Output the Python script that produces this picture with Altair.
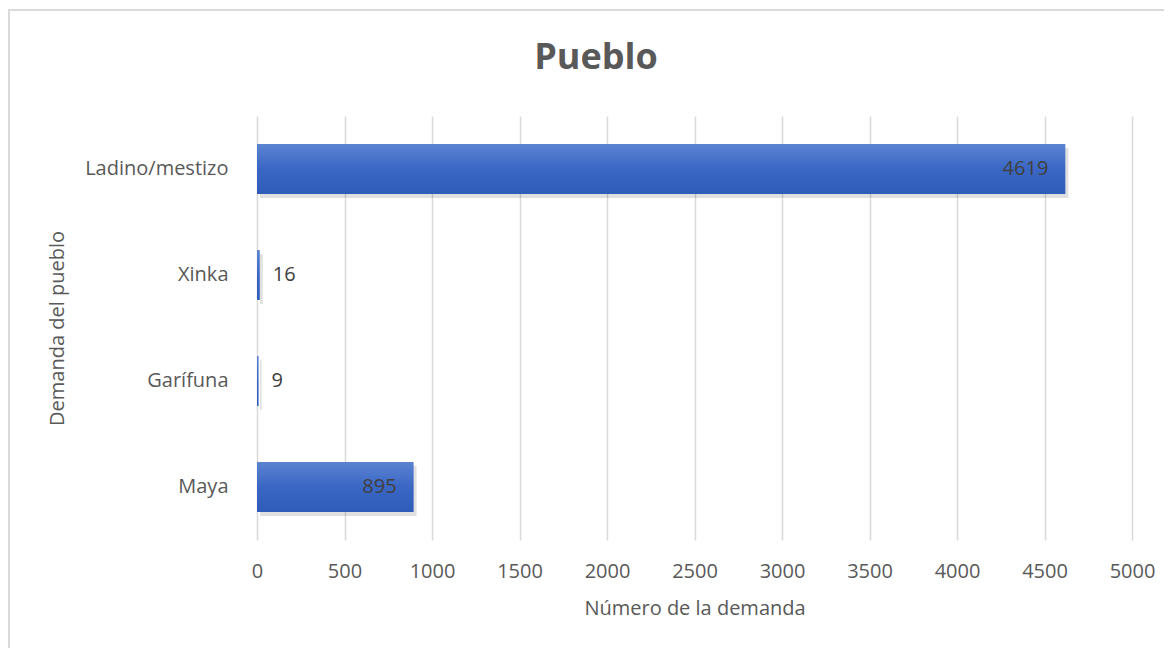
import altair as alt
import pandas as pd

pueblos = ["Ladino/mestizo", "Xinka", "Garífuna", "Maya"]
valores = [4619, 16, 9, 895]
x_ticks = [0, 500, 1000, 1500, 2000, 2500, 3000, 3500, 4000, 4500, 5000]

df = pd.DataFrame({"pueblo": pueblos, "valor": valores})

FONT = "Open Sans"
GRAY = "#595959"
FS = 20

y_enc = alt.Y(
    "pueblo:N",
    sort=pueblos,
    scale=alt.Scale(paddingInner=0.53, paddingOuter=0.265),
    axis=alt.Axis(
        title="Demanda del pueblo",
        labelFontSize=FS,
        labelColor=GRAY,
        labelFont=FONT,
        labelPadding=29,
        ticks=False,
        domain=False,
        titleFontSize=FS,
        titleFont=FONT,
        titleColor=GRAY,
        titleFontWeight="normal",
        titleBaseline="middle",
        titleX=-200,
        titleY=212,
    ),
)

x_enc = alt.X(
    "valor:Q",
    scale=alt.Scale(domain=[0, 5000], nice=False),
    axis=alt.Axis(
        values=x_ticks,
        format="d",
        labelFlush=False,
        title="Número de la demanda",
        labelFontSize=FS,
        labelColor=GRAY,
        labelFont=FONT,
        labelPadding=21,
        ticks=False,
        domain=False,
        grid=True,
        gridColor="#d9d9d9",
        gridWidth=1.5,
        titleFontSize=FS,
        titleFont=FONT,
        titleColor=GRAY,
        titleFontWeight="normal",
        titlePadding=17,
    ),
)

base = alt.Chart(df)

shadow = base.mark_bar(color="#000000", opacity=0.12, xOffset=3, yOffset=4).encode(
    x=x_enc, y=y_enc
)

bars = base.mark_bar(
    fill=alt.Gradient(
        gradient="linear",
        stops=[
            alt.GradientStop(color="#5b83d1", offset=0),
            alt.GradientStop(color="#3a67c4", offset=0.5),
            alt.GradientStop(color="#2e5cb8", offset=1),
        ],
        x1=0, x2=0, y1=0, y2=1,
    )
).encode(x=x_enc, y=y_enc)

inside = base.transform_filter("datum.valor >= 100").mark_text(
    align="right", baseline="middle", dx=-17, fontSize=FS, font=FONT, color="#404040"
).encode(x="valor:Q", y=alt.Y("pueblo:N", sort=pueblos), text="valor:Q")

outside = base.transform_filter("datum.valor < 100").mark_text(
    align="left", baseline="middle", dx=13, fontSize=FS, font=FONT, color="#404040"
).encode(x="valor:Q", y=alt.Y("pueblo:N", sort=pueblos), text="valor:Q")

title = alt.Chart(pd.DataFrame({"t": ["Pueblo"]})).mark_text(
    fontSize=36, fontWeight="bold", font=FONT, color=GRAY, align="center", baseline="middle"
).encode(x=alt.value(339), y=alt.value(-58), text="t:N")

border = alt.Chart(pd.DataFrame({"a": [0]})).mark_rect(
    fill="transparent", stroke="#d9d9d9", strokeWidth=2
).encode(x=alt.value(-248), x2=alt.value(940), y=alt.value(-106), y2=alt.value(560))

chart = alt.layer(border, shadow, bars, inside, outside, title).properties(
    width=875,
    height=424,
    padding={"left": 249, "top": 108, "right": 32, "bottom": 110},
    autosize=alt.AutoSizeParams(type="none"),
).configure_view(stroke=None)

chart.save("out.html", embed_options={"renderer": "svg", "actions": False})
